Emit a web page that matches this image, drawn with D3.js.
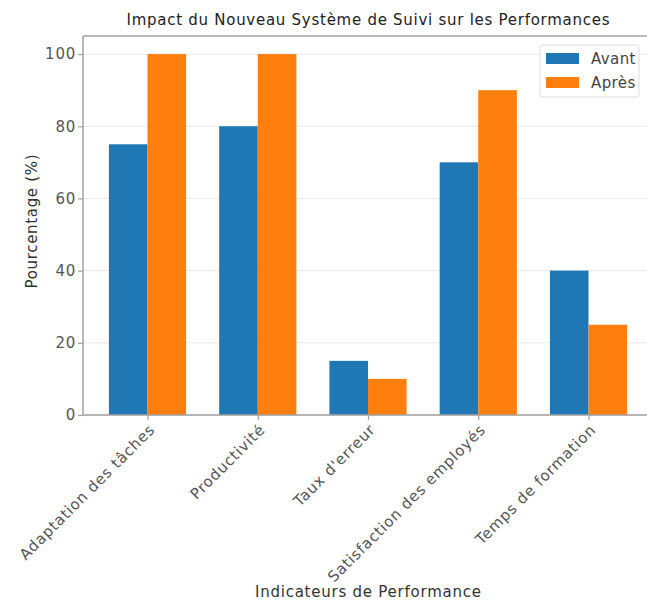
<!DOCTYPE html>
<html>
<head>
<meta charset="utf-8">
<script src="https://cdn.jsdelivr.net/npm/d3@7"></script>
<style>
  html, body { margin: 0; padding: 0; background: #fff; }
  svg { display: block; font-family: "DejaVu Sans", sans-serif; }
</style>
</head>
<body>
<svg id="chart" width="647" height="603"></svg>
<script>
const categories = ["Adaptation des tâches", "Productivité", "Taux d'erreur", "Satisfaction des employés", "Temps de formation"];
const seriesNames = ["Avant", "Après"];
const avant = [75, 80, 15, 70, 40];
const apres = [100, 100, 10, 90, 25];
const yTicks = [0, 20, 40, 60, 80, 100];
const colors = ["#1f77b4", "#ff7f0e"];

const svg = d3.select("#chart");
const margin = { left: 83, top: 36, right: -6, bottom: 188 };
const W = 647, H = 603;
const plotW = W - margin.left - margin.right;
const plotH = H - margin.top - margin.bottom;
const FONT = "15px";
const SPACING = "0.75px";

const barW = 0.35;
// continuous x over category index, with 5% padding like a default bar plot
const span = categories.length - 1 + 2 * barW;
const xMin = -barW - 0.05 * span;
const xMax = categories.length - 1 + barW + 0.05 * span;
const x = d3.scaleLinear().domain([xMin, xMax]).range([0, plotW]);
const y = d3.scaleLinear().domain([0, 105]).range([plotH, 0]);

const g = svg.append("g").attr("transform", `translate(${margin.left},${margin.top})`);

// horizontal grid
g.append("g").selectAll("line").data(yTicks).join("line")
  .attr("x1", 0).attr("x2", plotW)
  .attr("y1", d => y(d)).attr("y2", d => y(d))
  .attr("stroke", "#e8e8e8").attr("stroke-width", 1);

// bars
const series = [avant, apres];
series.forEach((vals, s) => {
  g.append("g").selectAll("rect").data(vals).join("rect")
    .attr("x", (d, i) => x(i - barW + s * barW))
    .attr("width", (d, i) => x(i + barW) - x(i))
    .attr("y", d => y(d))
    .attr("height", d => y(0) - y(d))
    .attr("fill", colors[s]);
});

// spines
const spineColor = "#a0a0a0";
[[0, 0, 0, plotH], [0, plotW, plotH, plotH], [0, plotW, 0, 0]].forEach(([x1, x2, y1, y2]) => {
  g.append("line").attr("x1", x1).attr("x2", x2).attr("y1", y1).attr("y2", y2)
    .attr("stroke", spineColor).attr("stroke-width", 1.5);
});

// y axis
const yAxis = d3.axisLeft(y).tickValues(yTicks).tickSize(5).tickPadding(2);
const ya = g.append("g").call(yAxis);
ya.select(".domain").remove();
ya.selectAll(".tick line").attr("stroke", spineColor).attr("stroke-width", 1.2);
ya.selectAll(".tick text").attr("fill", "#555").style("font-size", FONT)
  .style("letter-spacing", SPACING)
  .style("font-family", "DejaVu Sans, sans-serif");

// x axis
const xAxis = d3.axisBottom(x).tickValues(d3.range(categories.length))
  .tickFormat(i => categories[i]).tickSize(5).tickPadding(4);
const xa = g.append("g").attr("transform", `translate(0,${plotH})`).call(xAxis);
xa.select(".domain").remove();
xa.selectAll(".tick line").attr("stroke", spineColor).attr("stroke-width", 1.2);
xa.selectAll(".tick text")
  .attr("fill", "#555").style("font-size", FONT)
  .style("letter-spacing", SPACING)
  .style("font-family", "DejaVu Sans, sans-serif")
  .attr("text-anchor", "end")
  .attr("dy", "0.35em")
  .attr("transform", "translate(4,12) rotate(-45)")
  .attr("y", 0).attr("x", 0);

// axis titles
svg.append("text")
  .attr("x", margin.left + plotW / 2)
  .attr("y", 597)
  .attr("text-anchor", "middle")
  .attr("fill", "#333").style("font-size", FONT)
  .attr("textLength", 226).attr("lengthAdjust", "spacing")
  .text("Indicateurs de Performance");

svg.append("text")
  .attr("transform", `translate(37,${margin.top + plotH / 2 - 4}) rotate(-90)`)
  .attr("text-anchor", "middle")
  .attr("fill", "#333").style("font-size", FONT)
  .attr("textLength", 134).attr("lengthAdjust", "spacing")
  .text("Pourcentage (%)");

// title
svg.append("text")
  .attr("x", margin.left + plotW / 2)
  .attr("y", 25)
  .attr("text-anchor", "middle")
  .attr("fill", "#222").style("font-size", FONT)
  .attr("font-weight", 500)
  .attr("textLength", 483).attr("lengthAdjust", "spacing")
  .text("Impact du Nouveau Système de Suivi sur les Performances");

// legend
const lg = svg.append("g").attr("transform", "translate(540,45)");
lg.append("rect").attr("width", 99).attr("height", 52).attr("rx", 3)
  .attr("fill", "#fff").attr("fill-opacity", 0.85)
  .attr("stroke", "#dddddd").attr("stroke-width", 1);
seriesNames.forEach((name, i) => {
  lg.append("rect").attr("x", 6).attr("y", 8 + i * 24).attr("width", 33).attr("height", 11)
    .attr("fill", colors[i]);
  lg.append("text").attr("x", 51).attr("y", 14 + i * 24).attr("dy", "0.35em")
    .attr("fill", "#444").style("font-size", FONT).style("letter-spacing", "0.4px").text(name);
});
</script>
</body>
</html>
